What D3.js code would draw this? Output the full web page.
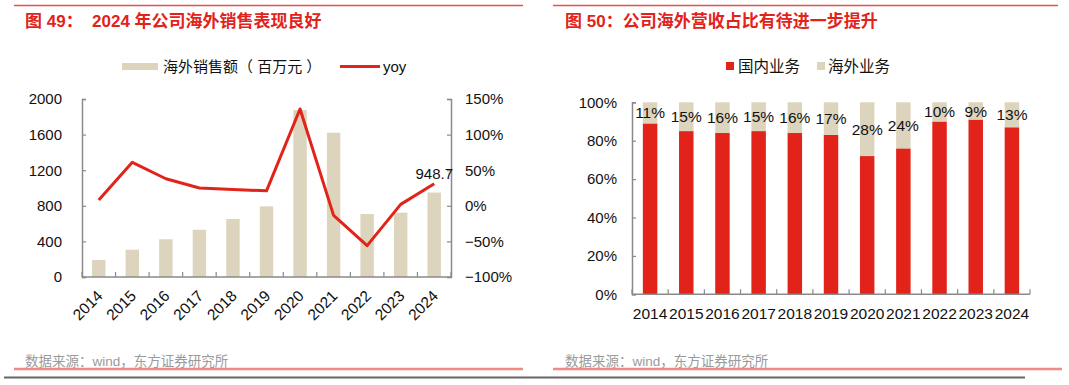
<!DOCTYPE html>
<html><head><meta charset="utf-8">
<script src="https://cdn.jsdelivr.net/npm/d3@7"></script>
<style>
html,body{margin:0;padding:0;background:#fff;}
svg text{font-family:"Liberation Sans","Noto Sans CJK SC",sans-serif;}
</style></head>
<body>
<svg id="c" width="1069" height="385"></svg>
<script>
// ---- data ----
const years = ["2014","2015","2016","2017","2018","2019","2020","2021","2022","2023","2024"];
const overseasSales = [190, 307, 424, 531, 652, 794, 1876, 1621, 708, 723, 948.7];
const yoy = [0.08, 0.61, 0.38, 0.25, 0.23, 0.21, 1.36, -0.135, -0.56, 0.02, 0.31];
const leftTicks = [0, 400, 800, 1200, 1600, 2000];
const rightTicks = [-1, -0.5, 0, 0.5, 1, 1.5];
const overseasShare = [0.11, 0.15, 0.16, 0.15, 0.16, 0.17, 0.28, 0.24, 0.10, 0.09, 0.13];
const domesticShare = overseasShare.map(v => 1 - v);
const shareTicks = [0, 0.2, 0.4, 0.6, 0.8, 1];

const RED = "#e2231a", BEIGE = "#ddd4bd", AXIS = "#8a8a8a";
const svg = d3.select("#c");

// ---- frame lines ----
function hline(x1, x2, y, color, w) {
  svg.append("line").attr("x1", x1).attr("x2", x2).attr("y1", y).attr("y2", y)
    .attr("stroke", color).attr("stroke-width", w);
}
hline(14, 523, 5.5, "#e8524b", 1.5);
hline(553, 1058, 5.5, "#e8524b", 1.5);
hline(14, 523, 369, "#ef8a84", 2.5);
hline(553, 1062, 369, "#ef8a84", 2.5);
hline(4, 1025, 377.5, "#666", 2);

// titles
svg.append("text").attr("x", 25).attr("y", 27).attr("fill", RED).attr("font-size", 17)
  .attr("font-weight", "bold").style("white-space", "pre").text("图 49：  2024 年公司海外销售表现良好");
svg.append("text").attr("x", 565).attr("y", 27).attr("fill", RED).attr("font-size", 17)
  .attr("font-weight", "bold").style("white-space", "pre").text("图 50：公司海外营收占比有待进一步提升");

// footers
[25, 565].forEach(x => svg.append("text").attr("x", x).attr("y", 366).attr("fill", "#9a9a9a")
  .attr("font-size", 13.5).text("数据来源：wind，东方证券研究所"));

// ================= LEFT CHART =================
const L = {x0: 82, x1: 451, yTop: 99, yBot: 277};
const xL = d3.scaleBand().domain(years).range([L.x0, L.x1]).paddingInner(0.6).paddingOuter(0.3);
const xLstep = d3.scaleBand().domain(years).range([L.x0, L.x1]).padding(0);
const yL = d3.scaleLinear().domain([0, 2000]).range([L.yBot, L.yTop]);
const yR = d3.scaleLinear().domain([-1, 1.5]).range([L.yBot, L.yTop]);

const gL = svg.append("g");
// bars
gL.selectAll("rect.b").data(years).join("rect")
  .attr("x", d => xL(d)).attr("width", xL.bandwidth())
  .attr("y", (d, i) => yL(overseasSales[i])).attr("height", (d, i) => L.yBot - yL(overseasSales[i]))
  .attr("fill", BEIGE);

// axes
function styleAxis(g) {
  g.selectAll("path.domain").attr("stroke", AXIS).attr("stroke-width", 1.5);
  g.selectAll(".tick line").attr("stroke", AXIS).attr("stroke-width", 1.2);
  g.selectAll(".tick text").attr("fill", "#111").attr("font-size", 15)
    .attr("font-family", "'Liberation Sans','Noto Sans CJK SC',sans-serif");
}
const axL = gL.append("g").attr("transform", `translate(${L.x0},0)`)
  .call(d3.axisRight(yL).tickValues(leftTicks).tickSize(4).tickFormat(d3.format("d")));
axL.selectAll(".tick text").attr("text-anchor", "end").attr("x", -20);
styleAxis(axL);
const axR = gL.append("g").attr("transform", `translate(${L.x1},0)`)
  .call(d3.axisLeft(yR).tickValues(rightTicks).tickSize(4).tickFormat(d3.format(".0%")));
axR.selectAll(".tick text").attr("text-anchor", "start").attr("x", 14);
styleAxis(axR);

// x axis
const axX = gL.append("g").attr("transform", `translate(0,${L.yBot})`);
axX.append("line").attr("x1", L.x0).attr("x2", L.x1).attr("stroke", AXIS).attr("stroke-width", 1.5);
axX.selectAll("line.t").data(d3.range(years.length + 1)).join("line")
  .attr("x1", i => L.x0 + i * xLstep.step()).attr("x2", i => L.x0 + i * xLstep.step())
  .attr("y1", 0).attr("y2", -5).attr("stroke", AXIS).attr("stroke-width", 1.2);
axX.selectAll("text").data(years).join("text")
  .attr("transform", d => `translate(${xLstep(d) + xLstep.bandwidth() / 2 + 1},16) rotate(-45)`)
  .attr("text-anchor", "end").attr("dy", "0.35em").attr("font-size", 15.5).attr("fill", "#111").text(d => d);

// yoy line
const line = d3.line().x((d, i) => xL(years[i]) + xL.bandwidth() / 2).y(d => yR(d));
gL.append("path").datum(yoy).attr("d", line).attr("fill", "none").attr("stroke", RED)
  .attr("stroke-width", 3).attr("stroke-linejoin", "round");
// last value label
const li = years.length - 1;
gL.append("text").attr("x", xL(years[li]) + xL.bandwidth() / 2).attr("y", yR(yoy[li]) - 5)
  .attr("text-anchor", "middle").attr("font-size", 15).attr("fill", "#111").text(overseasSales[li]);

// legend
gL.append("rect").attr("x", 122).attr("y", 63).attr("width", 36).attr("height", 7).attr("fill", BEIGE);
gL.append("text").attr("x", 163).attr("y", 72).attr("font-size", 15).attr("fill", "#111")
  .style("white-space", "pre").text("海外销售额（ 百万元 ）");
gL.append("line").attr("x1", 340).attr("x2", 380).attr("y1", 66.5).attr("y2", 66.5).attr("stroke", RED).attr("stroke-width", 3);
gL.append("text").attr("x", 383).attr("y", 72).attr("font-size", 15).attr("fill", "#111").text("yoy");

// ================= RIGHT CHART =================
const R = {x0: 632, x1: 1030, yTop: 102.3, yBot: 294.3};
const xB = d3.scaleBand().domain(years).range([R.x0, R.x1]).paddingInner(0.6).paddingOuter(0.3);
const xBstep = d3.scaleBand().domain(years).range([R.x0, R.x1]).padding(0);
const yB = d3.scaleLinear().domain([0, 1]).range([R.yBot, R.yTop]);
const gR = svg.append("g");

gR.selectAll("rect.d").data(years).join("rect")
  .attr("x", d => xB(d)).attr("width", xB.bandwidth())
  .attr("y", (d, i) => yB(domesticShare[i])).attr("height", (d, i) => R.yBot - yB(domesticShare[i]))
  .attr("fill", RED);
gR.selectAll("rect.o").data(years).join("rect")
  .attr("x", d => xB(d)).attr("width", xB.bandwidth())
  .attr("y", (d, i) => yB(1)).attr("height", (d, i) => yB(domesticShare[i]) - yB(1))
  .attr("fill", BEIGE);
gR.selectAll("text.lab").data(years).join("text")
  .attr("x", d => xB(d) + xB.bandwidth() / 2)
  .attr("y", (d, i) => (yB(1) + yB(domesticShare[i])) / 2)
  .attr("dy", "0.36em").attr("text-anchor", "middle").attr("font-size", 15.5).attr("fill", "#111")
  .text((d, i) => d3.format(".0%")(overseasShare[i]));

const axB = gR.append("g").attr("transform", `translate(${R.x0},0)`)
  .call(d3.axisRight(yB).tickValues(shareTicks).tickSize(4).tickFormat(d3.format(".0%")));
axB.selectAll(".tick text").attr("text-anchor", "end").attr("x", -15);
styleAxis(axB);
const axBX = gR.append("g").attr("transform", `translate(0,${R.yBot})`);
axBX.append("line").attr("x1", R.x0).attr("x2", R.x1).attr("stroke", AXIS).attr("stroke-width", 1.5);
axBX.selectAll("line.t").data(d3.range(years.length + 1)).join("line")
  .attr("x1", i => R.x0 + i * xBstep.step()).attr("x2", i => R.x0 + i * xBstep.step())
  .attr("y1", 0).attr("y2", -5).attr("stroke", AXIS).attr("stroke-width", 1.2);
axBX.selectAll("text").data(years).join("text")
  .attr("x", d => xBstep(d) + xBstep.bandwidth() / 2).attr("y", 25)
  .attr("text-anchor", "middle").attr("font-size", 15.5).attr("fill", "#111").text(d => d);

// legend
gR.append("rect").attr("x", 726).attr("y", 62).attr("width", 8).attr("height", 8).attr("fill", RED);
gR.append("text").attr("x", 738).attr("y", 72).attr("font-size", 15.5).attr("fill", "#111").text("国内业务");
gR.append("rect").attr("x", 817).attr("y", 62).attr("width", 8).attr("height", 8).attr("fill", BEIGE);
gR.append("text").attr("x", 828).attr("y", 72).attr("font-size", 15.5).attr("fill", "#111").text("海外业务");
</script>
</body></html>
